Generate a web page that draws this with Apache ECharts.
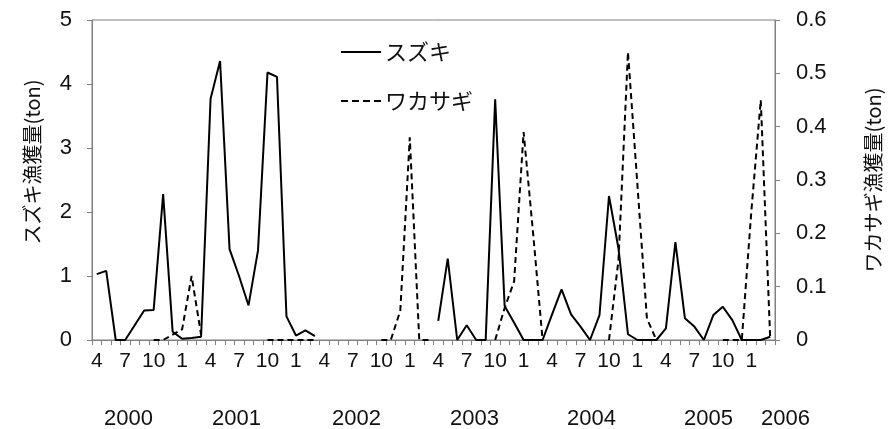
<!DOCTYPE html>
<html>
<head>
<meta charset="utf-8">
<script src="https://cdn.jsdelivr.net/npm/echarts@6/dist/echarts.min.js"></script>
<style>
html,body{margin:0;padding:0;background:#fff;}
#chart{width:891px;height:429px;}
</style>
</head>
<body>
<div id="chart"></div>
<script>
// Month tick labels, April 2000 .. March 2006
const months = [
  '4','5','6','7','8','9','10','11','12','1','2','3',
  '4','5','6','7','8','9','10','11','12','1','2','3',
  '4','5','6','7','8','9','10','11','12','1','2','3',
  '4','5','6','7','8','9','10','11','12','1','2','3',
  '4','5','6','7','8','9','10','11','12','1','2','3',
  '4','5','6','7','8','9','10','11','12','1','2','3'
];
const years = ['2000','2001','2002','2003','2004','2005','2006'];

// スズキ (ton, left axis)
const suzuki = [
  1.03,1.08,0,0,0.23,0.46,0.47,2.28,0.13,0.02,0.03,0.05,
  3.77,4.36,1.42,1.0,0.54,1.40,4.18,4.11,0.37,0.07,0.15,0.06,
  null,null,null,null,null,null,null,null,null,null,null,null,
  0.30,1.27,0,0.23,0,0,3.76,0.53,0.27,0,0,0,
  0.40,0.79,0.40,0.21,0,0.39,2.25,1.43,0.09,0,0,0,
  0.18,1.53,0.34,0.21,0,0.39,0.52,0.31,0,0,0,0.05
];
// ワカサギ (ton, right axis)
const wakasagi = [
  null,null,null,null,null,null,0,0,0.01,0.02,0.12,0.01,
  null,null,null,null,null,null,0,0,0,0,0,0,
  null,null,null,null,null,null,0,0,0.055,0.38,0,0,
  null,null,null,null,null,null,0,0.06,0.11,0.39,0.20,0,
  null,null,null,null,null,null,0,0.15,0.54,0.29,0.04,0,
  null,null,null,null,null,null,0,0,0,0.24,0.45,0
];

const leftTicks = {min:0, max:5, interval:1};
const rightTicks = {min:0, max:0.6, interval:0.1};

const NUM_FONT = 'Liberation Sans, Arial, Noto Sans CJK JP, sans-serif';
const JP_FONT = 'Noto Sans CJK JP, sans-serif';
const AXIS_GRAY = '#808080';

const SOLID_ICON = 'path://M0,0H40V2H0Z';
const DASH_ICON = 'path://M0,0H7V2H0Z M11,0H18V2H11Z M22,0H29V2H22Z M33,0H40V2H33Z';

const chart = echarts.init(document.getElementById('chart'));

const yearX = [130, 238, 358, 476, 593, 710, 787];

chart.setOption({
  animation: false,
  backgroundColor: '#fff',
  grid: {left: 92, right: 108, top: 20, bottom: 89, show: true, borderColor: AXIS_GRAY, borderWidth: 1},
  legend: {
    orient: 'vertical', left: 336, top: 36, itemWidth: 42, itemHeight: 2, itemGap: 27,
    textStyle: {fontSize: 22, fontFamily: JP_FONT, color: '#111', padding: [0,0,0,-2]},
    itemStyle: {color: '#000', borderWidth: 0},
    data: [{name: 'スズキ', icon: SOLID_ICON}, {name: 'ワカサギ', icon: DASH_ICON}]
  },
  xAxis: {
    type: 'category', data: months, boundaryGap: true,
    axisLine: {show: true, lineStyle: {color: AXIS_GRAY, width: 1}},
    axisTick: {show: true, interval: 0, length: 5, lineStyle: {color: AXIS_GRAY}},
    axisLabel: {interval: 2, fontSize: 21, fontFamily: NUM_FONT, color: '#111', margin: 11}
  },
  yAxis: [{
    type: 'value', min: leftTicks.min, max: leftTicks.max, interval: leftTicks.interval,
    name: 'スズキ漁獲量(ton)', nameLocation: 'middle', nameRotate: 90, nameGap: 50,
    nameTextStyle: {fontSize: 20, fontFamily: JP_FONT, color: '#111', padding: [0,0,0,36]},
    axisLine: {show: true, lineStyle: {color: AXIS_GRAY}},
    axisTick: {show: true, length: 5, lineStyle: {color: AXIS_GRAY}},
    splitLine: {show: false},
    axisLabel: {fontSize: 22, fontFamily: NUM_FONT, color: '#111', margin: 20}
  }, {
    type: 'value', min: rightTicks.min, max: rightTicks.max, interval: rightTicks.interval,
    position: 'right',
    name: 'ワカサギ漁獲量(ton)', nameLocation: 'middle', nameRotate: 90, nameGap: 88,
    nameTextStyle: {fontSize: 20, fontFamily: JP_FONT, color: '#111'},
    axisLine: {show: true, lineStyle: {color: AXIS_GRAY}},
    axisTick: {show: true, length: 5, lineStyle: {color: AXIS_GRAY}},
    splitLine: {show: false},
    axisLabel: {fontSize: 22, fontFamily: NUM_FONT, color: '#111', margin: 21}
  }],
  graphic: years.map((y, i) => ({
    type: 'text', left: yearX[i] - 26, top: 408,
    style: {text: y, fontSize: 22, fontFamily: NUM_FONT, fill: '#111'}
  })),
  series: [{
    name: 'スズキ', type: 'line', data: suzuki, yAxisIndex: 0,
    symbol: 'none', connectNulls: false,
    lineStyle: {color: '#000', width: 2, type: 'solid'},
    itemStyle: {color: '#000'}
  }, {
    name: 'ワカサギ', type: 'line', data: wakasagi, yAxisIndex: 1,
    symbol: 'none', connectNulls: false,
    lineStyle: {color: '#000', width: 2, type: [6, 4]},
    itemStyle: {color: '#000'}
  }]
});
</script>
</body>
</html>
